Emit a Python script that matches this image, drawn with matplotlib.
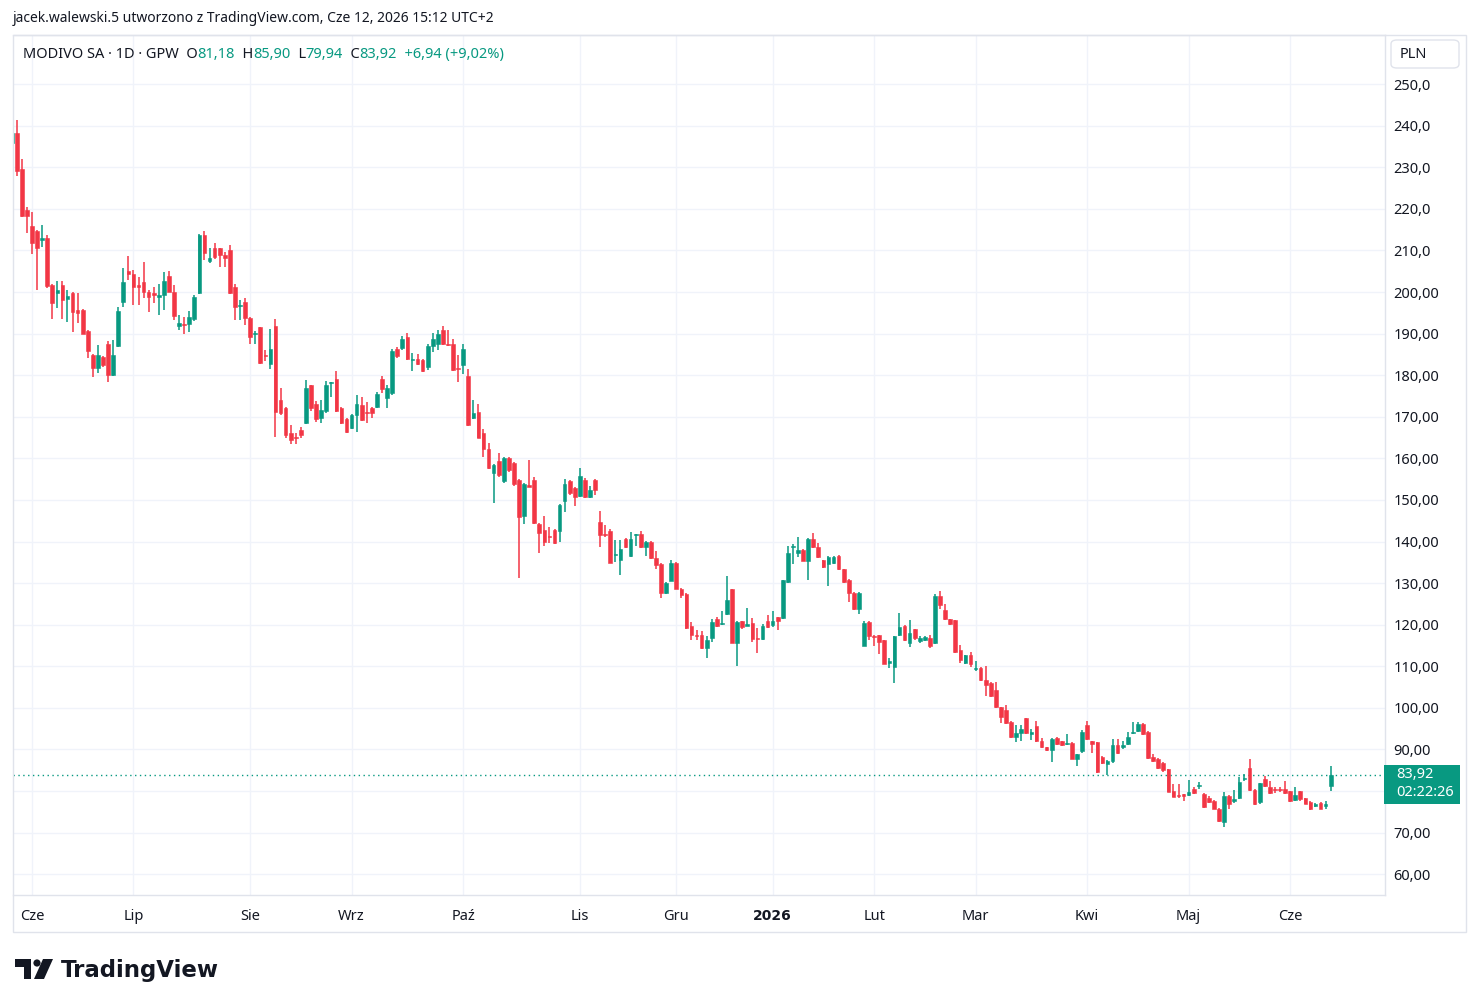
import numpy as np
import matplotlib.pyplot as plt
from matplotlib.patches import Rectangle, Polygon, Circle, FancyBboxPatch
from matplotlib.transforms import IdentityTransform

plt.rcParams['font.family'] = ['Noto Sans', 'DejaVu Sans']

UP = '#089981'
DOWN = '#F23645'
TXT = '#131722'
GRID = '#f0f3fa'
BORDER = '#e0e3eb'

# daily OHLC (May 2025 .. Jun 12 2026)
opens = [235.8, 238.2, 229.5, 219.7, 215.8, 214.7, 212.5, 212.9, 201.7, 199.7,
         201.7, 198.2, 199.8, 195.7, 195.6, 190.7, 184.8, 181.7, 184.4, 187.5,
         180.0, 187.0, 197.5, 205.0, 204.3, 201.7, 202.3, 200.1, 199.8, 198.7,
         199.3, 203.8, 200.1, 191.9, 192.3, 192.3, 193.6, 199.7, 213.7, 207.5,
         210.5, 210.5, 209.0, 210.2, 201.3, 196.6, 197.7, 193.8, 189.8, 191.5,
         184.8, 182.7, 191.8, 174.0, 172.0, 166.0, 165.2, 166.8, 168.6, 177.6,
         173.0, 169.6, 171.4, 178.0, 179.1, 172.2, 169.4, 167.4, 170.4, 172.8,
         171.0, 172.2, 172.4, 179.1, 174.6, 175.6, 186.2, 186.5, 189.2, 183.6,
         183.8, 183.6, 182.0, 187.0, 187.6, 190.8, 187.6, 187.5, 181.6, 182.4,
         179.8, 169.6, 171.2, 166.0, 162.2, 156.5, 159.3, 154.6, 160.2, 159.0,
         154.8, 146.2, 153.6, 154.8, 144.2, 142.7, 141.3, 142.7, 142.5, 149.8,
         154.5, 152.8, 151.0, 154.8, 150.8, 154.8, 144.8, 141.8, 142.5, 136.8,
         135.5, 140.7, 136.5, 141.5, 141.8, 138.6, 140.0, 136.0, 134.7, 127.7,
         130.6, 134.8, 128.7, 127.5, 119.6, 117.5, 117.5, 114.5, 116.7, 121.3,
         120.1, 122.5, 128.5, 115.7, 120.9, 119.8, 120.5, 116.7, 116.5, 120.9,
         119.9, 121.8, 121.5, 130.3, 138.6, 137.3, 138.0, 135.4, 140.6, 138.6,
         135.5, 134.7, 134.8, 136.5, 133.3, 130.7, 127.7, 123.7, 114.9, 120.7,
         117.3, 117.5, 116.3, 110.9, 109.8, 117.5, 119.7, 115.7, 118.9, 116.0,
         116.3, 116.9, 115.7, 126.9, 123.5, 121.3, 121.1, 114.0, 110.7, 112.7,
         109.4, 109.6, 106.7, 106.0, 104.4, 100.1, 99.6, 96.7, 93.1, 93.9,
         97.5, 93.7, 95.6, 92.0, 90.6, 89.8, 92.8, 92.0, 91.4, 91.6,
         87.8, 89.6, 95.8, 92.0, 91.8, 88.3, 86.5, 87.2, 91.0, 90.7,
         91.4, 94.0, 94.4, 96.2, 94.3, 88.2, 87.6, 86.8, 85.2, 80.1,
         78.9, 79.2, 79.1, 80.6, 81.2, 79.4, 78.4, 77.6, 75.8, 72.6,
         78.9, 77.6, 78.4, 82.8, 85.6, 80.3, 77.3, 82.8, 80.9, 80.5,
         80.5, 80.5, 79.9, 77.8, 79.9, 78.3, 77.4, 76.4, 77.1, 76.3,
         81.18]
highs = [239.0, 241.3, 232.1, 220.4, 219.2, 214.9, 216.1, 213.6, 201.9, 202.6,
         202.6, 200.5, 200.0, 199.8, 195.9, 190.8, 185.0, 187.2, 184.6, 188.3,
         188.4, 196.4, 205.7, 208.7, 205.3, 203.7, 207.3, 200.5, 201.3, 201.9,
         204.9, 205.0, 201.7, 194.4, 193.9, 195.5, 199.3, 213.9, 214.6, 210.5,
         211.7, 210.7, 209.5, 211.3, 202.0, 198.0, 198.5, 194.0, 190.6, 191.6,
         186.0, 191.2, 193.5, 176.8, 172.3, 168.0, 166.0, 167.6, 178.8, 177.7,
         173.8, 174.0, 178.6, 178.4, 181.0, 172.4, 169.6, 170.6, 175.2, 174.7,
         173.5, 172.4, 176.0, 179.7, 177.6, 186.3, 186.8, 189.4, 190.2, 185.4,
         185.2, 183.8, 187.6, 190.2, 190.8, 191.8, 190.8, 188.6, 184.8, 187.6,
         181.6, 174.0, 173.0, 167.0, 163.6, 158.6, 161.3, 160.4, 160.4, 159.2,
         155.0, 154.0, 159.6, 155.4, 144.4, 146.1, 143.5, 143.0, 149.0, 155.0,
         154.8, 153.0, 157.6, 155.2, 153.3, 155.0, 147.4, 143.9, 143.1, 140.3,
         140.3, 140.8, 142.3, 141.9, 142.6, 140.1, 140.1, 137.6, 134.8, 130.3,
         135.5, 135.0, 128.8, 127.6, 120.7, 118.8, 118.5, 117.3, 121.3, 121.8,
         123.3, 131.7, 128.6, 120.8, 121.0, 124.1, 121.5, 119.1, 120.1, 122.3,
         123.3, 121.9, 130.8, 138.9, 139.4, 141.1, 138.2, 140.8, 142.1, 139.7,
         135.6, 136.5, 136.4, 136.8, 133.5, 131.0, 127.8, 127.8, 121.0, 121.0,
         117.5, 117.6, 116.4, 112.1, 117.4, 122.9, 120.0, 121.1, 119.0, 117.3,
         117.4, 117.5, 127.4, 128.1, 125.0, 121.4, 121.2, 115.1, 112.8, 113.5,
         111.2, 109.8, 110.0, 106.3, 106.2, 100.2, 100.8, 96.8, 95.8, 95.8,
         97.6, 95.0, 96.8, 92.8, 90.7, 92.7, 92.9, 92.1, 93.6, 91.7,
         89.0, 94.6, 96.9, 92.1, 91.9, 88.4, 87.4, 92.6, 92.6, 92.0,
         94.2, 96.6, 96.6, 96.3, 94.4, 88.9, 88.0, 87.0, 85.3, 81.8,
         81.8, 79.4, 82.6, 81.0, 82.2, 79.5, 78.8, 77.8, 75.9, 79.8,
         79.0, 80.2, 83.4, 84.0, 87.6, 80.5, 82.0, 83.6, 82.4, 81.0,
         81.0, 82.4, 80.0, 80.9, 80.0, 78.4, 77.5, 77.2, 77.4, 77.6,
         85.90]
lows = [235.0, 228.0, 218.0, 214.1, 209.2, 200.5, 210.9, 201.0, 193.4, 196.1,
        193.6, 192.8, 190.4, 192.5, 189.9, 184.1, 179.5, 180.6, 182.0, 178.4,
        179.8, 186.8, 196.4, 202.9, 196.8, 196.8, 198.5, 195.3, 197.3, 194.4,
        195.6, 199.9, 193.2, 190.8, 190.0, 190.3, 193.0, 199.5, 207.8, 206.9,
        208.0, 206.1, 206.1, 199.5, 193.2, 193.3, 192.0, 187.5, 187.6, 182.8,
        183.5, 181.4, 165.2, 170.4, 164.8, 163.5, 163.4, 164.8, 168.2, 171.5,
        168.8, 168.4, 171.0, 174.8, 171.2, 168.2, 166.2, 167.0, 166.4, 169.0,
        168.5, 169.6, 172.0, 175.8, 172.0, 175.3, 184.2, 186.0, 183.6, 181.0,
        182.4, 180.8, 181.2, 185.6, 186.0, 187.2, 187.0, 181.0, 178.4, 180.4,
        167.8, 169.4, 164.8, 160.4, 157.4, 149.3, 155.6, 154.0, 156.8, 153.4,
        131.3, 144.2, 153.0, 144.2, 137.3, 138.9, 139.6, 139.3, 140.0, 147.0,
        151.3, 148.6, 150.8, 150.5, 150.5, 151.2, 138.8, 141.2, 134.8, 135.0,
        131.9, 138.5, 136.2, 138.9, 138.5, 136.5, 135.8, 133.5, 126.3, 127.4,
        130.4, 128.6, 126.3, 119.0, 116.3, 116.2, 114.2, 112.1, 115.9, 119.4,
        119.9, 122.3, 115.6, 110.0, 119.0, 119.6, 115.8, 113.3, 116.3, 119.1,
        119.5, 118.7, 121.3, 130.0, 134.6, 136.3, 135.2, 130.7, 138.4, 136.0,
        133.6, 129.4, 134.5, 133.1, 130.0, 125.5, 123.5, 122.5, 114.8, 116.3,
        114.8, 113.0, 110.5, 109.5, 106.0, 117.2, 116.0, 114.7, 116.4, 115.7,
        116.0, 114.4, 115.3, 123.7, 121.2, 120.0, 113.3, 110.7, 110.6, 109.8,
        108.8, 106.5, 102.8, 102.6, 100.0, 96.4, 96.0, 92.8, 91.9, 92.0,
        93.6, 92.2, 91.8, 90.3, 89.7, 87.0, 91.0, 90.8, 91.0, 87.6,
        86.0, 89.2, 92.2, 89.2, 84.4, 86.5, 83.8, 86.8, 89.0, 90.0,
        91.0, 93.6, 94.2, 93.4, 87.8, 87.0, 85.4, 84.6, 79.7, 78.5,
        78.4, 77.6, 78.9, 79.4, 80.4, 76.0, 77.2, 75.6, 72.6, 71.4,
        75.8, 77.2, 78.0, 82.5, 80.0, 76.6, 77.0, 81.0, 79.3, 79.6,
        79.8, 79.3, 77.4, 77.6, 77.6, 76.8, 75.5, 76.2, 75.6, 75.8,
        79.94]
closes = [238.2, 229.1, 218.3, 218.3, 211.7, 210.5, 213.0, 201.4, 197.4, 200.5,
          198.1, 199.0, 195.3, 195.0, 190.0, 185.9, 181.8, 184.8, 182.4, 180.0,
          184.8, 195.4, 202.5, 204.3, 201.3, 201.3, 200.1, 198.7, 199.3, 199.3,
          202.6, 200.1, 194.3, 192.5, 192.0, 193.9, 198.8, 213.7, 209.3, 208.1,
          208.3, 208.9, 208.1, 199.8, 196.3, 196.9, 193.7, 189.1, 190.0, 183.0,
          184.6, 186.3, 171.2, 171.0, 165.6, 164.4, 164.8, 165.6, 176.8, 172.0,
          169.4, 171.6, 177.6, 178.2, 171.5, 168.6, 166.4, 170.4, 173.0, 169.2,
          170.8, 170.8, 175.4, 176.6, 176.8, 185.9, 184.7, 188.8, 183.8, 183.9,
          182.6, 181.1, 187.0, 188.6, 190.0, 187.6, 187.2, 181.2, 181.4, 186.2,
          168.0, 171.0, 165.0, 162.2, 157.6, 158.4, 156.0, 160.2, 157.2, 153.8,
          145.8, 153.8, 153.2, 144.5, 142.1, 139.9, 141.1, 139.6, 148.8, 153.8,
          151.6, 150.6, 155.8, 150.8, 152.4, 152.4, 141.5, 141.5, 134.9, 136.9,
          138.3, 138.8, 140.7, 141.8, 138.7, 140.0, 136.0, 134.3, 127.7, 130.1,
          134.8, 128.7, 127.1, 119.3, 117.5, 117.3, 114.5, 116.3, 120.7, 119.7,
          120.5, 125.9, 115.7, 120.7, 119.5, 120.1, 116.5, 116.5, 119.7, 119.4,
          120.9, 120.9, 130.7, 137.3, 138.9, 138.0, 135.4, 140.6, 138.6, 136.2,
          133.8, 136.3, 136.2, 133.3, 130.3, 127.7, 123.7, 127.7, 120.5, 117.3,
          117.1, 115.9, 110.6, 111.1, 117.3, 119.5, 116.2, 118.1, 116.7, 116.7,
          117.1, 114.8, 126.9, 124.7, 121.3, 120.1, 113.5, 111.5, 112.7, 110.5,
          109.6, 106.7, 105.6, 102.8, 100.2, 97.7, 96.3, 93.0, 93.9, 94.8,
          93.9, 94.3, 92.0, 90.6, 89.8, 92.6, 91.2, 91.0, 91.6, 87.8,
          88.8, 94.3, 92.4, 91.2, 84.6, 86.7, 87.3, 91.0, 89.1, 91.0,
          93.0, 94.2, 96.2, 93.7, 88.0, 87.2, 85.6, 85.0, 79.8, 78.6,
          78.7, 78.9, 79.8, 79.6, 81.4, 76.2, 77.4, 75.8, 72.8, 78.9,
          77.0, 78.0, 82.1, 83.2, 80.3, 76.8, 81.9, 81.2, 79.6, 80.2,
          80.2, 79.5, 77.6, 79.1, 78.0, 77.0, 75.7, 77.0, 75.8, 76.98,
          83.92]

# first trading day of each month (candle index) and its label
month_starts = [4, 24, 47, 67, 89, 112, 131, 150, 170, 190, 212, 232, 252]
month_labels = ['Cze', 'Lip', 'Sie', 'Wrz', 'Paź', 'Lis', 'Gru', '2026',
                'Lut', 'Mar', 'Kwi', 'Maj', 'Cze']
price_ticks = list(range(60, 251, 10))
hidden_tick = 80  # covered by the last-price badge

o = np.array(opens)
h = np.array(highs)
l = np.array(lows)
c = np.array(closes)
x = np.arange(len(o))
up = c >= o
col = np.where(up, UP, DOWN)

fig = plt.figure(figsize=(14.79, 10.07), dpi=100)
ax = fig.add_axes([13 / 1479, 1 - 895 / 1007, 1372 / 1479, 860 / 1007])

# outer chart frame
fig.patches.append(Rectangle((13 / 1479, 1 - 932 / 1007), 1453 / 1479, 897 / 1007,
                             transform=fig.transFigure, fill=False,
                             ec=BORDER, lw=1, zorder=0))

for p in price_ticks:
    ax.axhline(p, color=GRID, lw=1, zorder=0)
for m in month_starts:
    ax.axvline(m, color=GRID, lw=1, zorder=0)

ax.vlines(x, np.minimum(l, np.minimum(o, c)), np.maximum(h, np.maximum(o, c)),
          colors=col, lw=1.1, zorder=2)
body_h = np.maximum(np.abs(c - o), 0.25)
ax.bar(x, body_h, bottom=np.minimum(o, c), width=0.72, color=col,
       edgecolor=col, lw=0.4, zorder=3)

last = c[-1]
ax.axhline(last, color=UP, lw=1, ls=(0, (1, 2.5)), zorder=1)

ax.set_xlim(0.26, 270.7)
ax.set_ylim(55.0, 261.8)

ax.yaxis.tick_right()
ax.set_yticks(price_ticks)
ylabels = []
for p in price_ticks:
    s = f'{p:.1f}' if p > 200 else f'{p:.2f}'
    ylabels.append('' if p == hidden_tick else s.replace('.', ','))
ax.set_yticklabels(ylabels)
ax.tick_params(axis='y', length=0, pad=6, labelsize=10.5, labelcolor=TXT)

ax.set_xticks(month_starts)
ax.set_xticklabels(month_labels)
ax.tick_params(axis='x', length=0, pad=10, labelsize=10.5, labelcolor=TXT)
for t in ax.get_xticklabels():
    if t.get_text() == '2026':
        t.set_fontfamily('DejaVu Sans')
        t.set_fontweight('bold')
        t.set_fontsize(10)

for s in ax.spines.values():
    s.set_color(BORDER)
    s.set_linewidth(1)
ax.spines['left'].set_visible(False)

# last price badge (drawn in pixel space next to the price scale)
ident = IdentityTransform()
xpix = ax.transAxes.transform((1, 0))[0]
ypix = ax.transData.transform((0, last))[1]
fig.patches.append(Rectangle((xpix - 1, ypix - 29), 76, 39, transform=ident,
                             fc=UP, ec='none', zorder=5))
fig.text(xpix + 11, ypix, '83,92', transform=ident, color='white',
         fontsize=10.5, va='center', ha='left', zorder=6)
fig.text(xpix + 11, ypix - 18, '02:22:26', transform=ident, color='white',
         fontsize=10.5, va='center', ha='left', zorder=6)

# currency box
fig.patches.append(FancyBboxPatch((1391 / 1479, 1 - 68 / 1007), 68 / 1479, 28 / 1007,
                                  boxstyle='round,pad=0,rounding_size=0.004',
                                  transform=fig.transFigure, fc='white',
                                  ec=BORDER, lw=1, zorder=4))
fig.text(1413 / 1479, 1 - 54 / 1007, 'PLN', ha='center', va='center',
         fontsize=10.5, color=TXT, zorder=6)

# legend line
t0 = ax.text(10 / 1372, 1 - 19 / 860, 'MODIVO SA · 1D · GPW  O', transform=ax.transAxes,
             fontsize=10.5, color=TXT, va='center', ha='left')
parts = [('81,18', UP), ('  H', TXT), ('85,90', UP), ('  L', TXT), ('79,94', UP),
         ('  C', TXT), ('83,92', UP), ('  +6,94 (+9,02%)', UP)]
prev = t0
for txt, cl in parts:
    prev = ax.annotate(txt, xy=(1, 0.5), xycoords=prev, va='center', ha='left',
                       fontsize=10.5, color=cl)

fig.text(13 / 1479, 1 - 19 / 1007,
         'jacek.walewski.5 utworzono z TradingView.com, Cze 12, 2026 15:12 UTC+2',
         fontsize=10, color=TXT, va='center', ha='left')

# TradingView logo
lax = fig.add_axes([15 / 1479, 1 - 981 / 1007, 40 / 1479, 22 / 1007])
lax.set_xlim(0, 40)
lax.set_ylim(0, 22)
lax.axis('off')
lax.add_patch(Polygon([(0, 22), (16, 22), (16, 2), (9, 2), (9, 14), (0, 14)],
                      closed=True, fc=TXT, ec='none'))
lax.add_patch(Circle((22, 18), 3.6, fc=TXT, ec='none'))
lax.add_patch(Polygon([(28, 22), (38, 22), (29, 2), (19, 2)], closed=True,
                      fc=TXT, ec='none'))
fig.text(61 / 1479, 1 - 970 / 1007, 'TradingView', fontsize=16.5, fontweight='bold',
         family='DejaVu Sans', color=TXT, va='center', ha='left')

fig.savefig('out.png', dpi=100)
